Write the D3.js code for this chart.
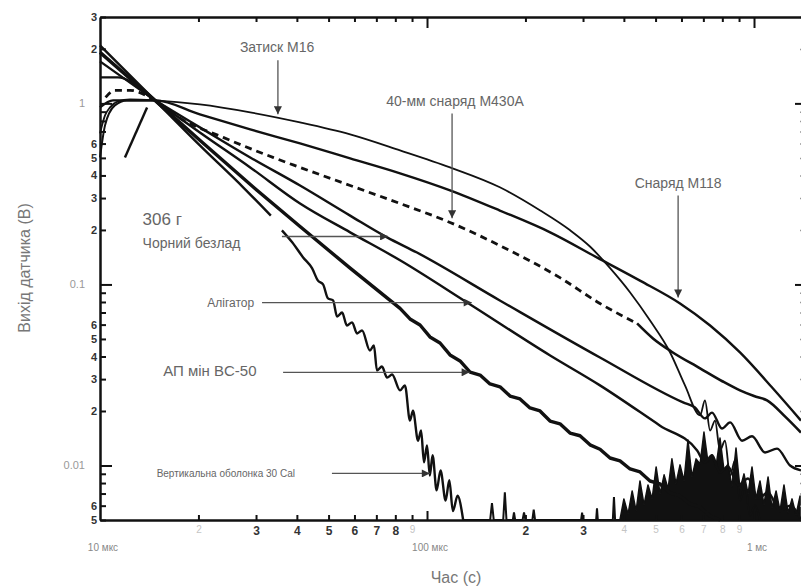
<!DOCTYPE html>
<html>
<head>
<meta charset="utf-8">
<script src="https://cdn.jsdelivr.net/npm/d3@7"></script>
<style>
  body { margin: 0; background: #fff; }
  svg { display: block; font-family: "Liberation Sans", Arial, sans-serif; }
</style>
</head>
<body>
<div id="chart"></div>
<script>
// time in microseconds, sensor output in volts
const clampM16 = [[10,0.683],[10.36,0.859],[10.73,0.95],[11.35,1.026],[12.35,1.052],[14.73,1.039],[20.2,0.987],[28.8,0.892],[40.9,0.785],[58.2,0.674],[82.7,0.55],[117.6,0.443],[167,0.344],[222,0.256],[274,0.199],[315,0.162],[363,0.123],[418,0.0903],[481,0.0632],[554,0.0421],[615,0.0277],[684,0.0189],[708,0.0229],[734,0.0156],[760,0.0177],[787,0.0121],[815,0.0137],[845,0.0088],[875,0.0107],[906,0.0064],[939,0.0078],[972,0.0053],[1007,0.006],[1043,0.005]];
const shellM430A = [[10.4,1.079],[11.1,1.18],[12.35,1.18],[14.73,1.039],[17.6,0.826],[23.8,0.649],[33.8,0.503],[40.9,0.443],[58.2,0.352],[82.7,0.28],[117.6,0.22],[167,0.164],[255,0.109],[338,0.0785],[439,0.0609]];
const shellM430ATail = [[439,0.0609],[491,0.0503],[560,0.0425],[684,0.0344],[800,0.0292],[906,0.026],[1000,0.0242],[1096,0.0229],[1250,0.0185],[1392,0.0152]];
const shellM118 = [[10,0.95],[10.96,1.039],[14.73,1.039],[20.2,0.87],[28.8,0.718],[40.9,0.601],[58.2,0.497],[82.7,0.411],[117.6,0.331],[167,0.256],[238,0.194],[338,0.138],[448,0.105],[594,0.0785],[734,0.0593],[906,0.0421],[1143,0.0266],[1392,0.0177]];
const blackPowder306 = [[10,1.392],[11.35,1.392],[14.73,1.039],[20.2,0.737],[28.8,0.503],[40.9,0.352],[58.2,0.24],[75.5,0.182],[93.2,0.15],[167,0.0816],[338,0.0395],[607,0.0223],[660,0.0209],[708,0.0182],[744,0.0196],[798,0.016],[845,0.0173],[919,0.0137],[986,0.0145],[1081,0.0118],[1176,0.0124],[1289,0.01],[1392,0.0094]];
const alligator = [[10,1.706],[14.73,1.039],[20.2,0.691],[28.8,0.443],[40.9,0.28],[58.2,0.194],[82.7,0.136],[132.6,0.0795],[238,0.0405],[338,0.0277],[516,0.0166],[670,0.0121],[708,0.0104],[744,0.0114],[787,0.00915],[832,0.00987],[894,0.0078],[959,0.00848],[1029,0.00657],[1104,0.00709],[1201,0.0056],[1289,0.006],[1392,0.005]];
const apMineBC50 = [[10,1.913],[14.73,1.039],[20.2,0.625],[30.2,0.331],[40.9,0.209],[58.2,0.123],[82.7,0.0737],[88.7,0.0645],[95.2,0.0597],[102.1,0.0513],[109.6,0.0475],[117.6,0.0408],[126.2,0.0378],[135.4,0.0328],[145.3,0.0316],[155.8,0.0282],[167.2,0.0272],[179.4,0.0242],[192.5,0.0233],[206.5,0.0208],[221.6,0.02],[237.8,0.0176],[255.1,0.017],[273.7,0.0151],[293.7,0.0146],[315.1,0.013],[338.1,0.0123],[362.8,0.011],[389.2,0.0106],[417.7,0.00957],[448.2,0.00921],[480.8,0.00821],[515.9,0.00791],[553.6,0.00705],[593.8,0.00679],[637.2,0.00613],[683.8,0.0059],[733.6,0.00526],[787,0.005]];
const cal30Early = [[10,2.091],[14.73,1.039],[20.2,0.586],[27.4,0.344],[33.3,0.24]];
const cal30 = [[36,0.199],[38.7,0.171],[41.8,0.141],[44.5,0.123],[46.4,0.105],[48.1,0.1],[49.8,0.0837],[51.6,0.0816],[53.1,0.0665],[55,0.07],[56.9,0.0593],[59,0.0617],[61.1,0.0536],[63.3,0.0557],[66.9,0.0432],[68.8,0.046],[70.3,0.0335],[72.8,0.0352],[75.5,0.0306],[78.2,0.0318],[82.7,0.026],[85.6,0.0277],[88.7,0.0177],[90.6,0.0201],[93.9,0.0137],[95.9,0.0156],[97.9,0.0104],[100,0.0129],[102,0.0088],[104,0.0114],[107,0.0073],[110,0.0094],[114,0.0064],[117,0.0083],[120,0.0056],[124,0.0068],[129,0.005]];
const riseTrace = [[10,0.503],[10.36,0.756],[11.1,0.975],[12.09,1.039],[14.73,1.039]];
const spikeTrace = [[11.92,0.503],[13.93,0.95]];
const noiseSpikes = [[129,0.005],[156,0.005],[158,0.0062],[160,0.005],[171,0.005],[173,0.0071],[175,0.005],[183,0.005],[184.5,0.0055],[186,0.005],[196,0.005],[198,0.0055],[200,0.005],[210,0.005],[212,0.0057],[214,0.005],[296,0.005],[298,0.0055],[300,0.005],[329,0.005],[331,0.0058],[333,0.005],[370,0.005],[373,0.0067],[376,0.005],[389,0.005]];
const noiseBand = [[389,0.005],[400,0.00654],[412,0.0054],[424,0.00724],[436,0.00561],[448,0.00822],[461,0.00606],[474,0.00781],[488,0.00654],[502,0.00982],[516,0.00697],[531,0.00888],[546,0.00743],[561,0.01088],[577,0.00791],[594,0.01008],[611,0.00822],[628,0.01383],[646,0.00865],[665,0.01088],[684,0.01021],[703,0.01531],[723,0.01045],[744,0.01145],[765,0.00982],[787,0.01419],[810,0.00934],[833,0.01021],[856,0.00762],[881,0.0125],[906,0.00743],[932,0.00899],[959,0.00697],[986,0.00982],[1014,0.00654],[1043,0.00822],[1073,0.00606],[1104,0.00865],[1135,0.00583],[1168,0.00724],[1201,0.00561],[1235,0.00781],[1271,0.00547],[1307,0.00654],[1344,0.00533],[1383,0.00679]];

// ticks and tick labels
const xMinorTicks = [20,30,40,50,60,70,80,90,200,300,400,500,600,700,800,900];
const xMajorTicks = [100,1000];
const xDigitStrong = [30,40,50,60,70,80,200,300];
const xDecadeLabels = [[10,"10 мкс"],[100,"100 мкс"],[1000,"1 мс"]];
const yMinorTicks = [3,2,0.9,0.8,0.7,0.6,0.5,0.4,0.3,0.2,0.09,0.08,0.07,0.06,0.05,0.04,0.03,0.02,0.009,0.008,0.007,0.006,0.005];
const yMajorTicks = [1,0.1,0.01];
const yDigitTicks = [3,2,0.6,0.5,0.4,0.3,0.2,0.06,0.05,0.04,0.03,0.02,0.006,0.005];
const yDecadeLabels = [[1,"1"],[0.1,"0.1"],[0.01,"0.01"]];

// annotations, placed in data coordinates
const notes = [
    { text: "Затиск M16", t: 34.8, v: 1.92, size: 14, anchor: "middle" },
    { text: "40-мм снаряд M430A", t: 121.8, v: 0.967, size: 14, anchor: "middle" },
    { text: "Снаряд M118", t: 586, v: 0.341, size: 14, anchor: "middle" },
    { text: "306 г", t: 13.5, v: 0.213, size: 17, anchor: "start" },
    { text: "Чорний безлад", t: 13.5, v: 0.159, size: 14, anchor: "start" },
    { text: "Алігатор", t: 29.6, v: 0.0755, size: 12, anchor: "end" },
    { text: "АП мін BC-50", t: 15.6, v: 0.0313, size: 15, anchor: "start" },
    { text: "Вертикальна оболонка 30 Cal", t: 14.9, v: 0.00865, size: 10, anchor: "start" }
];
const arrows = [
    [[35, 1.73], [35, 0.87]],
    [[119.3, 0.88], [119.3, 0.232]],
    [[586, 0.31], [586, 0.0848]],
    [[36.0, 0.184], [76.0, 0.184]],
    [[31.3, 0.0794], [137, 0.0794]],
    [[36.3, 0.0327], [135, 0.0327]],
    [[51.2, 0.00904], [102, 0.00904]]
];

const width = 801, height = 586;
const x = d3.scaleLog().domain([10, 1402]).range([100, 802]);
const y = d3.scaleLog().domain([0.005, 3]).range([520, 17]);

const svg = d3.select("#chart").append("svg")
    .attr("width", width)
    .attr("height", height);

const font = "Liberation Sans, Arial, sans-serif";
const leadDigit = d => Math.round(d / Math.pow(10, Math.floor(Math.log10(d) + 1e-9)));

const styleAxis = g => g
    .attr("font-family", font)
    .call(g => g.selectAll(".tick line").attr("stroke", "#111").attr("stroke-width", 2))
    .call(g => g.select(".domain").attr("stroke", "#111").attr("stroke-width", 2.5));

// traces first, axes drawn over them
const plot = svg.append("g");
const smooth = d3.line().x(d => x(d[0])).y(d => y(d[1])).curve(d3.curveMonotoneX);
const jagged = d3.line().x(d => x(d[0])).y(d => y(d[1]));
const band = d3.area().x(d => x(d[0])).y0(y(0.005)).y1(d => y(d[1]));

plot.append("path")
    .attr("d", jagged(noiseSpikes))
    .attr("fill", "none")
    .attr("stroke", "#111")
    .attr("stroke-width", 2);

plot.append("path")
    .attr("d", band(noiseBand))
    .attr("fill", "#111")
    .attr("stroke", "#111")
    .attr("stroke-width", 1.5)
    .attr("stroke-linejoin", "round");

const traces = [
    { data: riseTrace, w: 2 },
    { data: spikeTrace, w: 2.4 },
    { data: clampM16, w: 1.8 },
    { data: shellM118, w: 2.4 },
    { data: shellM430A, w: 2.8, dash: "7,5" },
    { data: shellM430ATail, w: 2.6 },
    { data: blackPowder306, w: 2.4 },
    { data: alligator, w: 2.4 },
    { data: apMineBC50, w: 3.4, rough: true },
    { data: cal30Early, w: 2.4 },
    { data: cal30, w: 2.4 }
];

plot.selectAll("path.trace")
    .data(traces)
    .join("path")
        .attr("class", "trace")
        .attr("d", d => d.rough ? jagged(d.data) : smooth(d.data))
        .attr("fill", "none")
        .attr("stroke", "#111")
        .attr("stroke-width", d => d.w)
        .attr("stroke-dasharray", d => d.dash || null)
        .attr("stroke-linejoin", "round");

// left axis
svg.append("g")
    .attr("transform", "translate(100,0)")
    .call(d3.axisLeft(y).tickValues(yMinorTicks).tickSize(-6).tickSizeOuter(0).tickPadding(3)
        .tickFormat(d => yDigitTicks.includes(d) ? leadDigit(d) : ""))
    .call(styleAxis)
    .call(g => g.selectAll("text").attr("fill", "#333").attr("font-size", 11).attr("font-weight", "bold"));

svg.append("g")
    .attr("transform", "translate(100,0)")
    .call(d3.axisLeft(y).tickValues(yMajorTicks).tickSize(-12).tickSizeOuter(0).tickFormat(""))
    .call(styleAxis)
    .call(g => g.select(".domain").remove());

svg.append("g")
    .selectAll("text")
    .data(yDecadeLabels)
    .join("text")
        .attr("x", 85)
        .attr("y", d => y(d[0]) + 4)
        .attr("text-anchor", "end")
        .attr("font-family", font)
        .attr("font-size", 11)
        .attr("fill", "#999")
        .text(d => d[1]);

// right axis, mostly cut off by the picture edge
svg.append("g")
    .attr("transform", "translate(803,0)")
    .call(d3.axisRight(y).tickValues(yMajorTicks).tickSize(-8).tickSizeOuter(0).tickFormat(""))
    .call(styleAxis);

svg.append("g")
    .attr("transform", "translate(803,0)")
    .call(d3.axisRight(y).tickValues(yMinorTicks).tickSize(-3).tickSizeOuter(0).tickFormat(""))
    .call(g => g.select(".domain").remove())
    .call(g => g.selectAll(".tick line").attr("stroke", "#999").attr("stroke-width", 1.5));

// bottom axis
svg.append("g")
    .attr("transform", "translate(0,520)")
    .call(d3.axisBottom(x).tickValues(xMinorTicks).tickSize(-5).tickSizeOuter(0).tickPadding(6)
        .tickFormat(d => leadDigit(d)))
    .call(styleAxis)
    .call(g => g.selectAll("text")
        .attr("font-size", d => xDigitStrong.includes(d) ? 12 : 10)
        .attr("font-weight", d => xDigitStrong.includes(d) ? "bold" : "normal")
        .attr("fill", d => xDigitStrong.includes(d) ? "#333" : "#c4c4c4"));

svg.append("g")
    .attr("transform", "translate(0,520)")
    .call(d3.axisBottom(x).tickValues(xMajorTicks).tickSize(-9).tickSizeOuter(0).tickFormat(""))
    .call(styleAxis)
    .call(g => g.select(".domain").remove());

svg.append("g")
    .selectAll("text")
    .data(xDecadeLabels)
    .join("text")
        .attr("x", d => x(d[0]) + 3)
        .attr("y", 551)
        .attr("text-anchor", "middle")
        .attr("font-family", font)
        .attr("font-size", 10)
        .attr("fill", "#888")
        .text(d => d[1]);

// top axis
svg.append("g")
    .attr("transform", "translate(0,17)")
    .call(d3.axisTop(x).tickValues(xMinorTicks).tickSize(-5).tickSizeOuter(0).tickFormat(""))
    .call(styleAxis);

svg.append("g")
    .attr("transform", "translate(0,17)")
    .call(d3.axisTop(x).tickValues(xMajorTicks).tickSize(-11).tickSizeOuter(0).tickFormat(""))
    .call(styleAxis)
    .call(g => g.select(".domain").remove());

// axis titles
svg.append("text")
    .attr("x", 456)
    .attr("y", 583)
    .attr("text-anchor", "middle")
    .attr("font-family", font)
    .attr("font-size", 16)
    .attr("fill", "#777")
    .text("Час (с)");

svg.append("text")
    .attr("transform", "translate(30,268) rotate(-90)")
    .attr("text-anchor", "middle")
    .attr("font-family", font)
    .attr("font-size", 16)
    .attr("fill", "#777")
    .text("Вихід датчика (В)");

// annotation arrows and labels
svg.append("defs").append("marker")
    .attr("id", "head")
    .attr("viewBox", "0 0 10 10")
    .attr("refX", 10)
    .attr("refY", 5)
    .attr("markerUnits", "userSpaceOnUse")
    .attr("markerWidth", 11)
    .attr("markerHeight", 8)
    .attr("orient", "auto")
  .append("path")
    .attr("d", "M0,0L10,5L0,10z")
    .attr("fill", "#333");

svg.append("g")
    .selectAll("line")
    .data(arrows)
    .join("line")
        .attr("x1", d => x(d[0][0]))
        .attr("y1", d => y(d[0][1]))
        .attr("x2", d => x(d[1][0]))
        .attr("y2", d => y(d[1][1]))
        .attr("stroke", "#555")
        .attr("stroke-width", 1.3)
        .attr("marker-end", "url(#head)");

svg.append("g")
    .selectAll("text")
    .data(notes)
    .join("text")
        .attr("x", d => x(d.t))
        .attr("y", d => y(d.v))
        .attr("text-anchor", d => d.anchor)
        .attr("font-family", font)
        .attr("font-size", d => d.size)
        .attr("fill", "#666")
        .text(d => d.text);
</script>
</body>
</html>
